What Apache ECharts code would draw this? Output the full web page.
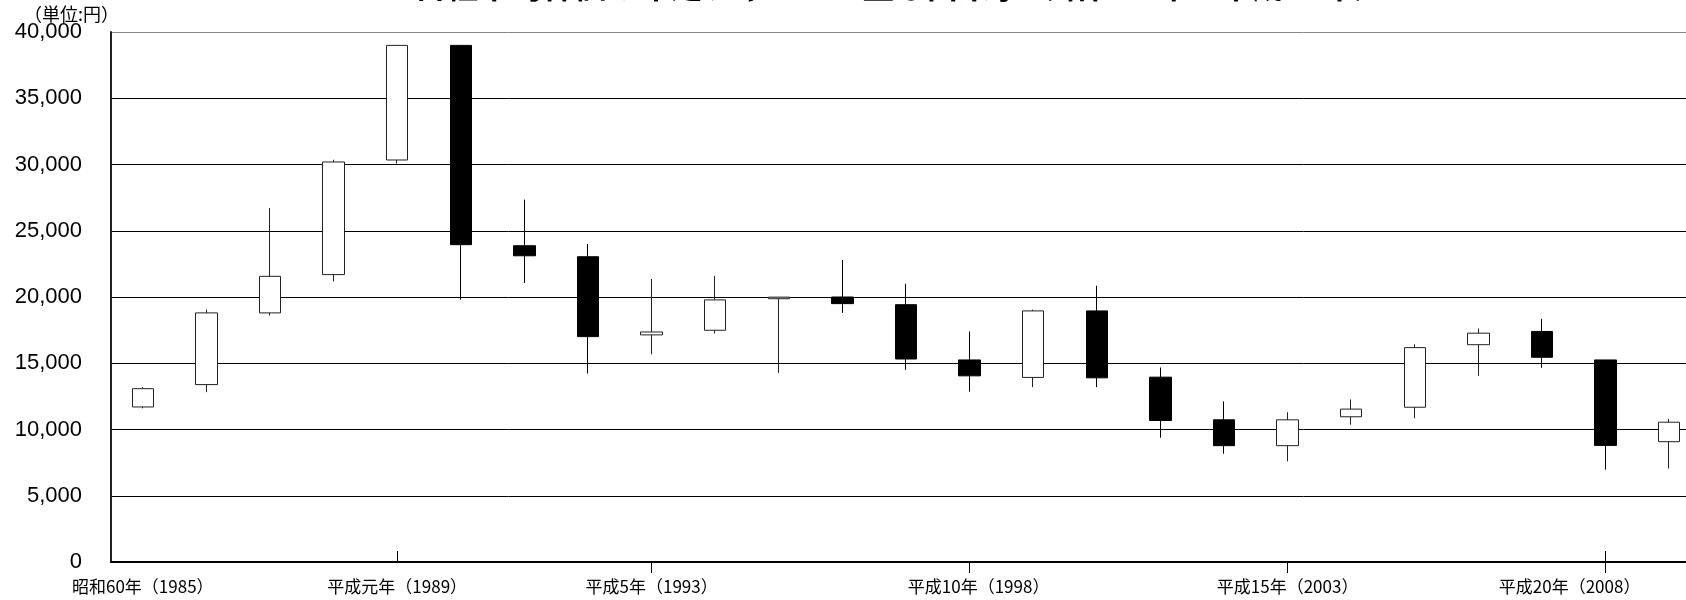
<!DOCTYPE html>
<html>
<head>
<meta charset="utf-8">
<script src="https://cdn.jsdelivr.net/npm/echarts@6/dist/echarts.min.js"></script>
<style>
html,body{margin:0;padding:0;background:#fff;overflow:hidden;width:1686px;height:600px;}
#chart{width:1701px;height:600px;}
</style>
</head>
<body>
<div id="chart"></div>
<script>
// Years (categories)
const years = ['1985','1986','1987','1988','1989','1990','1991','1992','1993','1994','1995','1996','1997','1998','1999','2000','2001','2002','2003','2004','2005','2006','2007','2008','2009'];
// Era tick labels (empty = no label)
const eraLabels = ['昭和60年（1985）','','','','平成元年（1989）','','','','平成5年（1993）','','','','','平成10年（1998）','','','','','平成15年（2003）','','','','','平成20年（2008）',''];
// Yearly OHLC (yen)
const openVals  = [11700,13390,18800,21690,30340,38990,23870,23040,17140,17490,19870,20000,19420,15250,13930,18950,13950,10730, 8780,10960,11680,16400,17400,15250, 9080];
const closeVals = [13080,18800,21560,30190,38990,23950,23110,17010,17360,19780,19990,19500,15320,14050,18950,13900,10680, 8780,10730,11540,16180,17270,15450, 8800,10550];
const lowVals   = [11600,12820,18590,21180,30060,19800,21060,14220,15670,17240,14270,18800,14500,12850,13200,13200, 9380, 8170, 7600,10360,10850,14050,14650, 6970, 7050];
const highVals  = [13200,19050,26720,30360,38990,38990,27350,24000,21360,21590,19990,22790,21000,17400,19050,20850,14680,12120,11300,12270,16430,17620,18350,15250,10800];
const titleText = '日経平均株価の年足チャートと主な出来事（昭和60年～平成21年）';
const unitText = '（単位:円）';

const ohlc = years.map((y, i) => [openVals[i], closeVals[i], lowVals[i], highVals[i]]);
const outTicks = [8, 13, 18, 23];
const inTicks = [4, 23];

const labelFont = {color: '#000', fontSize: 17, fontFamily: '"Noto Sans CJK JP"'};
const rich = {
  c: Object.assign({}, labelFont),
  r: Object.assign({padding: [0, 0, 0, 18]}, labelFont),
  l: Object.assign({padding: [0, 72, 0, 0]}, labelFont)
};

const chart = echarts.init(document.getElementById('chart'), null, {renderer: 'canvas'});
chart.setOption({
  animation: false,
  backgroundColor: '#fff',
  graphic: [
    {type: 'text', left: 24, top: 5, style: {text: unitText, font: '18px "Noto Sans CJK JP"', fill: '#000'}},
    {type: 'text', x: 900, y: 2, style: {text: titleText, font: 'bold 32px "Noto Sans CJK JP"', fill: '#000', textAlign: 'center', textVerticalAlign: 'bottom'}}
  ],
  grid: {left: 111, right: 0, top: 32, bottom: 38, containLabel: false},
  xAxis: [
    {
      type: 'category', data: years, boundaryGap: true,
      axisLine: {show: true, lineStyle: {color: '#000', width: 2}},
      axisTick: {show: true, alignWithLabel: true, length: 11, lineStyle: {color: '#000', width: 1},
        interval: (idx) => outTicks.indexOf(idx) >= 0},
      axisLabel: {show: true, interval: 0, margin: 16, rich: rich,
        formatter: (v, idx) => {
          const t = eraLabels[idx];
          if (!t) return '';
          const k = idx === 13 ? 'r' : (idx === 23 ? 'l' : 'c');
          return '{' + k + '|' + t + '}';
        }},
      splitLine: {show: false}
    },
    {
      type: 'category', data: years, boundaryGap: true, position: 'bottom',
      axisLine: {show: false},
      axisTick: {show: true, inside: true, alignWithLabel: true, length: 11, lineStyle: {color: '#000', width: 1},
        interval: (idx) => inTicks.indexOf(idx) >= 0},
      axisLabel: {show: false},
      splitLine: {show: false}
    }
  ],
  yAxis: {
    type: 'value', min: 0, max: 40000, interval: 5000,
    axisLine: {show: true, lineStyle: {color: '#222', width: 2}},
    axisTick: {show: false},
    axisLabel: {color: '#000', fontSize: 22, fontFamily: '"Liberation Sans", Arial', margin: 29,
      formatter: (v) => v.toLocaleString('en-US')},
    splitLine: {show: true, lineStyle: {color: ['#000','#000','#000','#000','#000','#000','#000','#000','#888'], width: 1}}
  },
  series: [{
    type: 'candlestick',
    xAxisIndex: 0,
    data: ohlc,
    barWidth: 22,
    itemStyle: {color: '#fff', color0: '#000', borderColor: '#222', borderColor0: '#000', borderWidth: 1}
  }]
});
</script>
</body>
</html>
